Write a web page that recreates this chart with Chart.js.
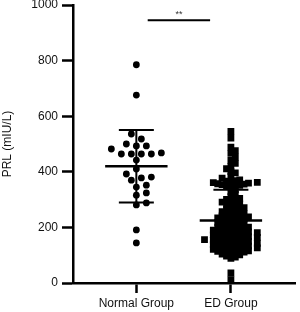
<!DOCTYPE html>
<html>
<head>
<meta charset="utf-8">
<script src="https://cdn.jsdelivr.net/npm/chart.js@4.4.0/dist/chart.umd.min.js"></script>
<style>
  html, body { margin: 0; padding: 0; background: #fff; }
  #wrap { width: 300px; height: 312px; }
</style>
</head>
<body>
<div id="wrap"><canvas id="prl"></canvas></div>
<script>
// groups and read-off values
const groups = ['Normal Group', 'ED Group'];
const normalVals = [785, 676, 536, 518, 500, 493, 493, 482, 468, 464, 464, 464, 464, 442,
  410, 392, 381, 378, 370, 352, 345, 324, 316, 288, 281, 191, 144];
const edVals = [545, 521, 489, 476, 466, 453, 441, 430, 419, 411, 401, 396, 384, 377, 371,
  368, 366, 364, 362, 361, 359, 357, 356, 354, 352, 351, 349, 347,
  336, 329, 319, 311, 304, 301,
  298, 294, 291, 285, 283, 277, 276, 271, 269, 264, 261, 257, 256, 251,
  249, 246, 245, 241, 240, 238, 235, 234, 231, 230, 227, 224, 223, 219, 218, 214, 213, 210, 207, 206, 203, 201,
  199, 196, 195, 193, 190, 190, 188, 186, 184, 183, 181, 179, 178, 176, 174, 173, 171, 170, 167, 166,
  164, 163, 161, 159, 158, 156, 154, 153, 152, 150,
  149, 146, 145, 143, 142, 141, 138, 137, 135, 133, 132, 130, 128, 126, 125, 123, 121, 120, 118, 116,
  114, 113, 111, 109, 107, 104,
  101, 97, 93, 89,
  36, 12];
const groupMean = [420, 225];
const sdLow = [290, 115];
const sdHigh = [550, 335];
const yTicks = [0, 200, 400, 600, 800, 1000];
const sigBar = [1.12, 1.78, 945];

const font = 'Liberation Sans, Arial, sans-serif';

// simple beeswarm: returns x offsets in pixels
function swarm(vals, yScale, diam, step, square) {
  const order = vals.map((v, i) => i).sort((a, b) => vals[a] - vals[b]);
  const placed = [];
  const off = new Array(vals.length).fill(0);
  order.forEach(i => {
    const py = yScale.getPixelForValue(vals[i]);
    for (let k = 0; k < 400; k++) {
      const dx = (k % 2 ? 1 : -1) * Math.ceil(k / 2) * step;
      const hit = placed.some(p => square
        ? Math.abs(p.x - dx) < diam && Math.abs(p.y - py) < diam
        : Math.hypot(p.x - dx, p.y - py) < diam);
      if (!hit) { placed.push({x: dx, y: py}); off[i] = dx; break; }
    }
  });
  return off;
}

const barsPlugin = {
  id: 'bars',
  afterDatasetsDraw(chart) {
    const {ctx, scales: {x, y}} = chart;
    const unit = x.getPixelForValue(2) - x.getPixelForValue(1);
    ctx.save();
    ctx.strokeStyle = '#000';
    groupMean.forEach((m, i) => {
      const cx = x.getPixelForValue(i + 1);
      ctx.lineWidth = 2;
      ctx.beginPath();
      ctx.moveTo(cx, y.getPixelForValue(sdHigh[i]));
      ctx.lineTo(cx, y.getPixelForValue(sdLow[i]));
      [sdHigh[i], sdLow[i]].forEach(v => {
        const py = y.getPixelForValue(v);
        ctx.moveTo(cx - unit * 0.185, py);
        ctx.lineTo(cx + unit * 0.185, py);
      });
      ctx.stroke();
      ctx.lineWidth = 2.5;
      ctx.beginPath();
      const pm = y.getPixelForValue(m);
      ctx.moveTo(cx - unit * 0.33, pm);
      ctx.lineTo(cx + unit * 0.33, pm);
      ctx.stroke();
    });
    // significance bar
    const py = y.getPixelForValue(sigBar[2]);
    ctx.lineWidth = 2;
    ctx.beginPath();
    ctx.moveTo(x.getPixelForValue(sigBar[0]), py);
    ctx.lineTo(x.getPixelForValue(sigBar[1]), py);
    ctx.stroke();
    ctx.fillStyle = '#333';
    ctx.font = '9px ' + font;
    ctx.textAlign = 'center';
    ctx.textBaseline = 'bottom';
    ctx.fillText('**', x.getPixelForValue((sigBar[0] + sigBar[1]) / 2), py - 1);
    ctx.restore();
  }
};

const chart = new Chart(document.getElementById('prl'), {
  type: 'scatter',
  data: {
    datasets: [
      {
        label: groups[0],
        data: normalVals.map(v => ({x: 1, y: v})),
        pointStyle: 'circle',
        pointRadius: 3.4,
        backgroundColor: '#000',
        borderWidth: 0
      },
      {
        label: groups[1],
        data: edVals.map(v => ({x: 2, y: v})),
        pointStyle: 'rect',
        pointRadius: 4.8,
        backgroundColor: '#000',
        borderWidth: 0
      }
    ]
  },
  options: {
    responsive: true,
    maintainAspectRatio: false,
    animation: false,
    layout: {padding: {left: 0, right: 3, top: 0, bottom: 0}},
    plugins: {legend: {display: false}, tooltip: {enabled: false}},
    scales: {
      x: {
        type: 'linear',
        min: 0.33,
        max: 2.68,
        afterBuildTicks: s => { s.ticks = [{value: 1}, {value: 2}]; },
        afterFit: s => { s.height = 29; },
        ticks: {
          callback: (v, i) => groups[i],
          color: '#111',
          font: {family: font, size: 12},
          padding: 3,
          maxRotation: 0
        },
        grid: {drawOnChartArea: false, tickLength: 10, tickColor: '#000', tickWidth: 2.5},
        border: {color: '#000', width: 2.5}
      },
      y: {
        min: 0,
        max: 1000,
        afterBuildTicks: s => { s.ticks = yTicks.map(v => ({value: v})); },
        afterFit: s => { s.width = 73; s.paddingTop = 5; },
        ticks: {
          callback: v => String(v),
          color: '#111',
          font: {family: font, size: 12},
          padding: 4
        },
        title: {
          display: true,
          text: 'PRL (mIU/L)',
          color: '#111',
          font: {family: font, size: 12},
          padding: 0
        },
        grid: {drawOnChartArea: false, tickLength: 11, tickColor: '#000', tickWidth: 2.5},
        border: {color: '#000', width: 2.5}
      }
    }
  },
  plugins: [barsPlugin]
});

const xs = chart.scales.x, ys = chart.scales.y;
const unit = xs.getPixelForValue(2) - xs.getPixelForValue(1);
const o1 = swarm(normalVals, ys, 7.5, 5, false);
const o2 = swarm(edVals, ys, 4.4, 4.4, true);
chart.data.datasets[0].data = normalVals.map((v, i) => ({x: 1 + o1[i] / unit, y: v}));
chart.data.datasets[1].data = edVals.map((v, i) => ({x: 2 + o2[i] / unit, y: v}));
chart.update('none');
</script>
</body>
</html>
